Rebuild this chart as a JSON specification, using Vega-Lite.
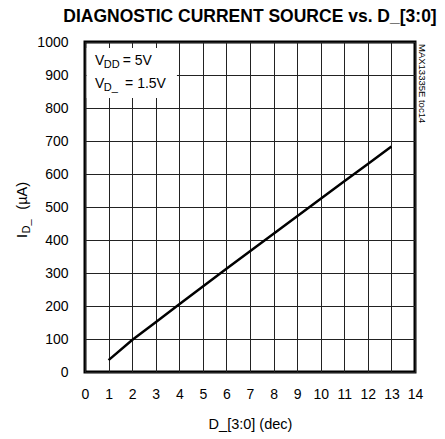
{
  "$schema": "https://vega.github.io/schema/vega-lite/v6.json",
  "width": 330,
  "height": 330,
  "autosize": "none",
  "padding": {"left": 85, "top": 42, "right": 30, "bottom": 67},
  "background": "white",
  "title": {
    "text": "DIAGNOSTIC CURRENT SOURCE vs. D_[3:0]",
    "font": "Liberation Sans",
    "fontSize": 17.5,
    "fontWeight": "bold",
    "color": "black",
    "anchor": "middle",
    "frame": "group",
    "offset": 10
  },
  "config": {
    "view": {"stroke": "black", "strokeWidth": 3},
    "font": "Liberation Sans",
    "axis": {
      "grid": true,
      "gridColor": "#222222",
      "gridWidth": 1,
      "gridOpacity": 1,
      "domain": false,
      "ticks": false,
      "labelFont": "Liberation Sans",
      "labelFontSize": 14,
      "labelColor": "black",
      "titleFont": "Liberation Sans",
      "titleFontSize": 14.5,
      "titleFontWeight": "normal",
      "titleColor": "black"
    }
  },
  "encoding": {
    "x": {
      "field": "x", "type": "quantitative",
      "scale": {"domain": [0, 14], "nice": false, "zero": false},
      "axis": {"values": [0,1,2,3,4,5,6,7,8,9,10,11,12,13,14], "format": "d", "labelPadding": 15, "title": "D_[3:0] (dec)", "titlePadding": 16, "labelFlush": false, "labelOverlap": false}
    },
    "y": {
      "field": "y", "type": "quantitative",
      "scale": {"domain": [0, 1000], "nice": false, "zero": false},
      "axis": {"values": [0,100,200,300,400,500,600,700,800,900,1000], "format": "d", "labelPadding": 17, "title": null, "labelFlush": false, "labelOverlap": false}
    }
  },
  "layer": [
    {
      "data": {"values": [{"x": 0.07, "x2": 3.9, "y": 830, "y2": 982}]},
      "mark": {"type": "rect", "fill": "white"},
      "encoding": {
        "x2": {"field": "x2"},
        "y2": {"field": "y2"}
      }
    },
    {
      "data": {"values": [
        {"x": 1, "y": 36},
        {"x": 2, "y": 97},
        {"x": 3, "y": 151},
        {"x": 4, "y": 205},
        {"x": 5, "y": 259},
        {"x": 6, "y": 313},
        {"x": 7, "y": 366},
        {"x": 8, "y": 419},
        {"x": 9, "y": 472},
        {"x": 10, "y": 525},
        {"x": 11, "y": 578},
        {"x": 12, "y": 630},
        {"x": 13, "y": 683}
      ]},
      "mark": {"type": "line", "color": "black", "strokeWidth": 2.5},
      "encoding": {}
    },
    {
      "data": {"values": [
        {"x": 0.42, "y": 930, "t": "V"},
        {"x": 1.6, "y": 930, "t": "= 5V"},
        {"x": 0.42, "y": 861, "t": "V"},
        {"x": 1.70, "y": 861, "t": "= 1.5V"}
      ]},
      "mark": {"type": "text", "align": "left", "baseline": "alphabetic", "fontSize": 14, "color": "black", "font": "Liberation Sans"},
      "encoding": {"text": {"field": "t"}}
    },
    {
      "data": {"values": [
        {"x": 0.8, "y": 930, "t": "DD"},
        {"x": 0.8, "y": 861, "t": "D_"}
      ]},
      "mark": {"type": "text", "align": "left", "baseline": "alphabetic", "fontSize": 11, "dy": 3, "color": "black", "font": "Liberation Sans"},
      "encoding": {"text": {"field": "t"}}
    },
    {
      "data": {"values": [
        {"x": -2.46, "y": 406, "t": "I"},
        {"x": -2.46, "y": 492, "t": "(µA)"}
      ]},
      "mark": {"type": "text", "align": "left", "baseline": "alphabetic", "angle": 270, "fontSize": 14.5, "color": "black", "font": "Liberation Sans"},
      "encoding": {"text": {"field": "t"}}
    },
    {
      "data": {"values": [
        {"x": -2.46, "y": 420, "t": "D_"}
      ]},
      "mark": {"type": "text", "align": "left", "baseline": "alphabetic", "angle": 270, "fontSize": 11, "dy": 3, "color": "black", "font": "Liberation Sans"},
      "encoding": {"text": {"field": "t"}}
    },
    {
      "data": {"values": [
        {"x": 14, "y": 994, "t": "MAX13335E toc14"}
      ]},
      "mark": {"type": "text", "align": "left", "baseline": "bottom", "angle": 90, "fontSize": 9.5, "dy": -2, "color": "black", "font": "Liberation Sans"},
      "encoding": {"text": {"field": "t"}}
    }
  ]
}
